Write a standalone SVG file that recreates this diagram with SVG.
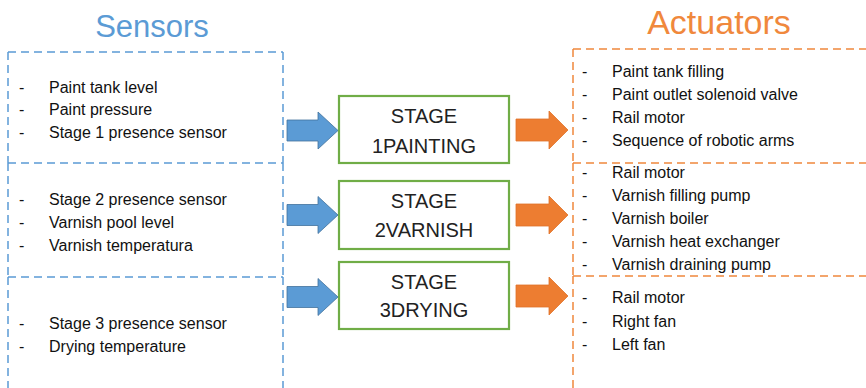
<svg xmlns="http://www.w3.org/2000/svg" width="866" height="388" viewBox="0 0 866 388">
<style>
.sbox{fill:none;stroke:#5B9BD5;stroke-width:1.5;stroke-dasharray:8 5}
.abox{fill:none;stroke:#F0883C;stroke-width:1.5;stroke-dasharray:8 5}
.stage{fill:#fff;stroke:#70AD47;stroke-width:2.2}
.item{font-family:"Liberation Sans",Arial,sans-serif;font-size:16px;fill:#111}
.stxt{font-family:"Liberation Sans",Arial,sans-serif;font-size:20px;fill:#222;text-anchor:middle}
.title{font-family:"Liberation Sans",Arial,sans-serif;text-anchor:middle}
.barrow{fill:#5B9BD5;stroke:#41719C;stroke-width:0.8}
.oarrow{fill:#ED7D31;stroke:#E0722A;stroke-width:0.8}
</style>
<rect width="866" height="388" fill="#fff"/>
<text class="title" x="152" y="37" font-size="31" fill="#5B9BD5">Sensors</text>
<text class="title" x="719" y="34" font-size="34" fill="#F0883C">Actuators</text>

<g id="sensors1">
<path class="sbox" d="M8,52 H283 M8,163 H283 M8,52 V163 M283,52 V163"/>
<g class="item">
<text x="19" y="93">-</text><text x="49" y="93">Paint tank level</text>
<text x="19" y="115">-</text><text x="49" y="115">Paint pressure</text>
<text x="19" y="138">-</text><text x="49" y="138">Stage 1 presence sensor</text>
</g>
</g>
<g id="sensors2">
<path class="sbox" d="M8,163 V277 M283,163 V277 M8,277 H283"/>
<g class="item">
<text x="19" y="205">-</text><text x="49" y="205">Stage 2 presence sensor</text>
<text x="19" y="228">-</text><text x="49" y="228">Varnish pool level</text>
<text x="19" y="251">-</text><text x="49" y="251">Varnish temperatura</text>
</g>
</g>
<g id="sensors3">
<path class="sbox" d="M8,277 V400 M283,277 V400"/>
<g class="item">
<text x="19" y="329">-</text><text x="49" y="329">Stage 3 presence sensor</text>
<text x="19" y="352">-</text><text x="49" y="352">Drying temperature</text>
</g>
</g>

<g id="stage1">
<rect class="stage" x="339" y="96" width="170" height="67"/>
<text class="stxt" x="424" y="123">STAGE</text>
<text class="stxt" x="424" y="153">1PAINTING</text>
</g>
<g id="stage2">
<rect class="stage" x="339" y="181" width="170" height="68"/>
<text class="stxt" x="424" y="208">STAGE</text>
<text class="stxt" x="424" y="237">2VARNISH</text>
</g>
<g id="stage3">
<rect class="stage" x="339" y="262" width="170" height="67"/>
<text class="stxt" x="424" y="289">STAGE</text>
<text class="stxt" x="424" y="317">3DRYING</text>
</g>

<g id="actuators1">
<path class="abox" d="M573,49 H880 M573,163 H880 M573,49 V163"/>
<g class="item">
<text x="582" y="77">-</text><text x="612" y="77">Paint tank filling</text>
<text x="582" y="100">-</text><text x="612" y="100">Paint outlet solenoid valve</text>
<text x="582" y="123">-</text><text x="612" y="123">Rail motor</text>
<text x="582" y="146">-</text><text x="612" y="146">Sequence of robotic arms</text>
</g>
</g>
<g id="actuators2">
<path class="abox" d="M573,163 V276 M573,276 H880"/>
<g class="item">
<text x="582" y="178">-</text><text x="612" y="178">Rail motor</text>
<text x="582" y="201">-</text><text x="612" y="201">Varnish filling pump</text>
<text x="582" y="224">-</text><text x="612" y="224">Varnish boiler</text>
<text x="582" y="247">-</text><text x="612" y="247">Varnish heat exchanger</text>
<text x="582" y="270">-</text><text x="612" y="270">Varnish draining pump</text>
</g>
</g>
<g id="actuators3">
<path class="abox" d="M573,276 V400"/>
<g class="item">
<text x="582" y="303">-</text><text x="612" y="303">Rail motor</text>
<text x="582" y="327">-</text><text x="612" y="327">Right fan</text>
<text x="582" y="350">-</text><text x="612" y="350">Left fan</text>
</g>
</g>

<g id="connectors">
<path class="barrow" d="M287,120 H318 V112 L338,130.5 L318,149 V141 H287 Z"/>
<path class="barrow" d="M287,204.5 H318 V196.5 L338,215 L318,233.5 V225.5 H287 Z"/>
<path class="barrow" d="M287,286.5 H318 V278.5 L338,297 L318,315.5 V307.5 H287 Z"/>
<path class="oarrow" d="M516,119 H549 V111 L568,130 L549,149 V141 H516 Z"/>
<path class="oarrow" d="M516,204 H549 V196 L568,215 L549,234 V226 H516 Z"/>
<path class="oarrow" d="M516,285 H549 V277 L568,296 L549,315 V307 H516 Z"/>
</g>
</svg>
